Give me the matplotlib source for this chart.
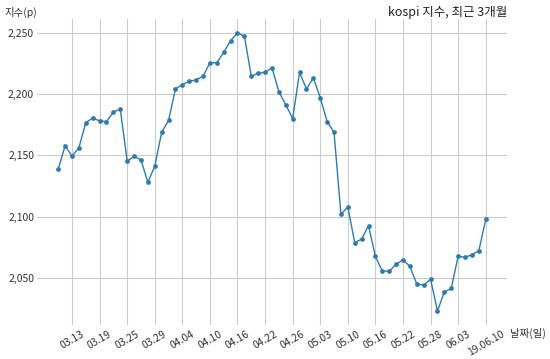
import matplotlib
matplotlib.use("Agg")
import matplotlib.pyplot as plt
from matplotlib.ticker import FuncFormatter

plt.rcParams['font.family'] = ['Noto Sans CJK KR', 'DejaVu Sans']

# KOSPI closing index, trading days 2019-03-11 .. 2019-06-10
dates = ['03.11', '03.12', '03.13', '03.14', '03.15', '03.18', '03.19', '03.20',
         '03.21', '03.22', '03.25', '03.26', '03.27', '03.28', '03.29', '04.01',
         '04.02', '04.03', '04.04', '04.05', '04.08', '04.09', '04.10', '04.11',
         '04.12', '04.15', '04.16', '04.17', '04.18', '04.19', '04.22', '04.23',
         '04.24', '04.25', '04.26', '04.29', '04.30', '05.02', '05.03', '05.07',
         '05.08', '05.09', '05.10', '05.13', '05.14', '05.15', '05.16', '05.17',
         '05.20', '05.21', '05.22', '05.23', '05.24', '05.27', '05.28', '05.29',
         '05.30', '05.31', '06.03', '06.04', '06.05', '06.07', '19.06.10']
kospi = [2138.8, 2157.9, 2149.4, 2156.2, 2176.7, 2180.3, 2178.1, 2177.5,
         2185.2, 2187.7, 2145.3, 2149.2, 2146.4, 2128.1, 2141.2, 2168.8,
         2178.4, 2204.1, 2207.6, 2210.3, 2211.5, 2214.4, 2225.4, 2225.4,
         2233.9, 2243.4, 2249.7, 2247.0, 2214.4, 2216.9, 2217.5, 2221.3,
         2201.9, 2191.2, 2180.0, 2217.5, 2204.1, 2213.1, 2197.0, 2177.5,
         2168.8, 2102.0, 2108.0, 2079.0, 2081.8, 2092.8, 2067.7, 2055.8,
         2055.7, 2061.3, 2064.9, 2059.6, 2045.3, 2044.2, 2049.2, 2023.3,
         2038.8, 2041.7, 2067.9, 2067.0, 2069.1, 2072.3, 2097.8]

tick_idx = list(range(2, len(dates), 4))
yticks = [2050, 2100, 2150, 2200, 2250]

fig = plt.figure(figsize=(5.5, 3.59), dpi=100)
ax = fig.add_axes([0.067, 0.095, 0.855, 0.852])

x = list(range(len(dates)))
ax.plot(x, kospi, color='#2e7bb0', lw=1.0, marker='o', ms=2.4)

ax.set_xticks(tick_idx)
ax.set_xticklabels([dates[i] for i in tick_idx], rotation=30, ha='center',
                   fontsize=7.5, color='#333333')
ax.set_yticks(yticks)
ax.yaxis.set_major_formatter(FuncFormatter(lambda v, p: f'{int(v):,}'))
ax.tick_params(axis='y', labelsize=7.5, colors='#333333', length=0, pad=2)
ax.tick_params(axis='x', length=0, pad=3)

ax.grid(True, color='#cccccc', lw=0.8)
for s in ax.spines.values():
    s.set_visible(False)

fig.text(0.922, 0.965, 'kospi 지수, 최근 3개월', ha='right', va='center',
         fontsize=9, color='#222222')
fig.text(0.008, 0.965, '지수(p)', ha='left', va='center', fontsize=7.5, color='#333333')
fig.text(0.927, 0.07, '날짜(일)', ha='left', va='center', fontsize=7.5, color='#333333')

fig.savefig('out.png', dpi=100)
